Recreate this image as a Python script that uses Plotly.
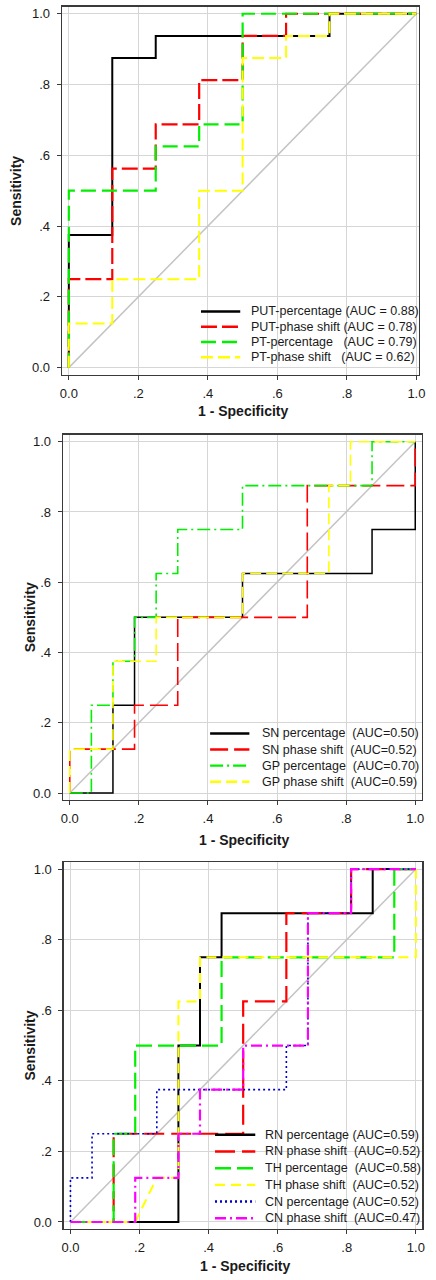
import plotly.graph_objects as go

W, H = 436, 1280

# ---------------- data (ROC points: 1-specificity, sensitivity) ----------------
# Panel 1
p1_names = ["PUT-percentage (AUC = 0.88)", "PUT-phase shift (AUC = 0.78)",
            "PT-percentage\u00a0\u00a0\u00a0(AUC = 0.79)", "PT-phase shift\u00a0\u00a0\u00a0(AUC = 0.62)"]
put_pct_fpr = [0, 0, 0.125, 0.125, 0.25, 0.25, 0.75, 0.75, 1]
put_pct_tpr = [0, 0.375, 0.375, 0.875, 0.875, 0.9375, 0.9375, 1, 1]
put_ph_fpr = [0, 0, 0.125, 0.125, 0.25, 0.25, 0.375, 0.375, 0.5, 0.5, 0.625, 0.625, 1]
put_ph_tpr = [0, 0.25, 0.25, 0.5625, 0.5625, 0.6875, 0.6875, 0.8125, 0.8125, 0.9375, 0.9375, 1, 1]
pt_pct_fpr = [0, 0, 0.25, 0.25, 0.375, 0.375, 0.5, 0.5, 1]
pt_pct_tpr = [0, 0.5, 0.5, 0.625, 0.625, 0.6875, 0.6875, 1, 1]
pt_ph_fpr = [0, 0, 0.125, 0.125, 0.375, 0.375, 0.5, 0.5, 0.625, 0.625, 0.75, 0.75, 1]
pt_ph_tpr = [0, 0.125, 0.125, 0.25, 0.25, 0.5, 0.5, 0.875, 0.875, 0.9375, 0.9375, 1, 1]

# Panel 2
p2_names = ["SN percentage\u00a0\u00a0(AUC=0.50)", "SN phase shift\u00a0\u00a0(AUC=0.52)",
            "GP percentage\u00a0\u00a0(AUC=0.70)", "GP phase shift\u00a0\u00a0(AUC=0.59)"]
sn_pct_fpr = [0, 0.125, 0.125, 0.1875, 0.1875, 0.5, 0.5, 0.875, 0.875, 1, 1]
sn_pct_tpr = [0, 0, 0.25, 0.25, 0.5, 0.5, 0.625, 0.625, 0.75, 0.75, 1]
sn_ph_fpr = [0, 0, 0.1875, 0.1875, 0.3125, 0.3125, 0.6875, 0.6875, 1, 1]
sn_ph_tpr = [0, 0.125, 0.125, 0.25, 0.25, 0.5, 0.5, 0.875, 0.875, 1]
gp_pct_fpr = [0, 0.0625, 0.0625, 0.125, 0.125, 0.1875, 0.1875, 0.25, 0.25, 0.3125, 0.3125, 0.5, 0.5, 0.875, 0.875, 1]
gp_pct_tpr = [0, 0, 0.25, 0.25, 0.375, 0.375, 0.5, 0.5, 0.625, 0.625, 0.75, 0.75, 0.875, 0.875, 1, 1]
gp_ph_fpr = [0, 0, 0.125, 0.125, 0.25, 0.25, 0.5, 0.5, 0.75, 0.75, 0.8125, 0.8125, 1]
gp_ph_tpr = [0, 0.125, 0.125, 0.375, 0.375, 0.5, 0.5, 0.625, 0.625, 0.875, 0.875, 1, 1]

# Panel 3
p3_names = ["RN percentage (AUC=0.59)", "RN phase shift\u00a0\u00a0(AUC=0.52)",
            "TH percentage\u00a0\u00a0(AUC=0.58)", "TH phase shift\u00a0\u00a0(AUC=0.52)",
            "CN percentage (AUC=0.52)", "CN phase shift\u00a0\u00a0(AUC=0.47)"]
rn_pct_fpr = [0, 0.3125, 0.3125, 0.375, 0.375, 0.4375, 0.4375, 0.875, 0.875, 1]
rn_pct_tpr = [0, 0, 0.5, 0.5, 0.75, 0.75, 0.875, 0.875, 1, 1]
rn_ph_fpr = [0, 0.125, 0.125, 0.5, 0.5, 0.625, 0.625, 0.8125, 0.8125, 1]
rn_ph_tpr = [0, 0, 0.25, 0.25, 0.625, 0.625, 0.875, 0.875, 1, 1]
th_pct_fpr = [0, 0.125, 0.125, 0.1875, 0.1875, 0.4375, 0.4375, 0.9375, 0.9375, 1]
th_pct_tpr = [0, 0, 0.25, 0.25, 0.5, 0.5, 0.75, 0.75, 1, 1]
th_ph_fpr = [0, 0.1875, 0.25, 0.3125, 0.3125, 0.375, 0.375, 1, 1]
th_ph_tpr = [0, 0, 0.125, 0.125, 0.625, 0.625, 0.75, 0.75, 1]
cn_pct_fpr = [0, 0, 0.0625, 0.0625, 0.25, 0.25, 0.625, 0.625, 0.6875, 0.6875, 0.8125, 0.8125, 1]
cn_pct_tpr = [0, 0.125, 0.125, 0.25, 0.25, 0.375, 0.375, 0.5, 0.5, 0.875, 0.875, 1, 1]
cn_ph_fpr = [0, 0.1875, 0.1875, 0.3125, 0.3125, 0.375, 0.375, 0.5, 0.5, 0.6875, 0.6875, 0.8125, 0.8125, 1]
cn_ph_tpr = [0, 0, 0.125, 0.125, 0.25, 0.25, 0.375, 0.375, 0.5, 0.5, 0.875, 0.875, 1, 1]

tick_vals = [0, 0.2, 0.4, 0.6, 0.8, 1.0]
tick_text = ["0.0", ".2", ".4", ".6", ".8", "1.0"]
x_title = "1 - Specificity"
y_title = "Sensitivity"

# ---------------- styles ----------------
BLACK, RED, GREEN, YELLOW, BLUE, MAGENTA = "#000000", "#ff0000", "#00f000", "#ffff00", "#0000cc", "#ff00ff"
FONT = "Arial, 'Liberation Sans', sans-serif"

panels = [
    dict(names=p1_names,
         series=[(put_pct_fpr, put_pct_tpr), (put_ph_fpr, put_ph_tpr), (pt_pct_fpr, pt_pct_tpr), (pt_ph_fpr, pt_ph_tpr)],
         styles=[(BLACK, "solid", 2), (RED, "16px,5px", 2.2), (GREEN, "15px,6px", 2.2), (YELLOW, "12px,5px", 2)],
         xdom=(61, 425), ydom=(6.7, 375), xr=(-0.02, 1.008),
         leg_y0=311.7, leg_dy=15.3, leg_x=(202.7, 242.7, 251.5),
         xt_y=411.7, yt_x=13.5),
    dict(names=p2_names,
         series=[(sn_pct_fpr, sn_pct_tpr), (sn_ph_fpr, sn_ph_tpr), (gp_pct_fpr, gp_pct_tpr), (gp_ph_fpr, gp_ph_tpr)],
         styles=[(BLACK, "solid", 1.5), (RED, "18px,6px", 1.6), (GREEN, "13px,4px,2px,4px", 1.6), (YELLOW, "11px,5px", 1.6)],
         xdom=(62, 428), ydom=(435, 800.7), xr=(-0.02, 1.02),
         leg_y0=734, leg_dy=16.1, leg_x=(212, 252, 262.5),
         xt_y=840.7, yt_x=28.5),
    dict(names=p3_names,
         series=[(rn_pct_fpr, rn_pct_tpr), (rn_ph_fpr, rn_ph_tpr), (th_pct_fpr, th_pct_tpr), (th_ph_fpr, th_ph_tpr),
                 (cn_pct_fpr, cn_pct_tpr), (cn_ph_fpr, cn_ph_tpr)],
         styles=[(BLACK, "solid", 2), (RED, "20px,7px", 2.2), (GREEN, "16px,6px", 2.2), (YELLOW, "10px,6px", 2),
                 (BLUE, "2px,3px", 1.6), (MAGENTA, "11px,4px,2px,4px", 2.2)],
         xdom=(62.7, 428.3), ydom=(862.7, 1230), xr=(-0.02, 1.019),
         leg_y0=1135.7, leg_dy=16.7, leg_x=(217, 258, 266),
         xt_y=1267, yt_x=28.5),
]


def fx(px):
    return px / W


def fy(py):
    return 1 - py / H


fig = go.Figure()
shapes, annotations = [], []
layout_axes = {}

for i, p in enumerate(panels):
    k = "" if i == 0 else str(i + 1)
    xa, ya = "x" + k, "y" + k
    # reference diagonal
    fig.add_trace(go.Scatter(x=[0, 1], y=[0, 1], mode="lines", xaxis=xa, yaxis=ya,
                             line=dict(color="#c4c4c4", width=1.5), showlegend=False, hoverinfo="skip"))
    for (fpr, tpr), name, (col, dash, wd) in zip(p["series"], p["names"], p["styles"]):
        fig.add_trace(go.Scatter(x=fpr, y=tpr, mode="lines", name=name, xaxis=xa, yaxis=ya,
                                 line=dict(color=col, dash=dash, width=wd), showlegend=False))
    axis_common = dict(tickvals=tick_vals, ticktext=tick_text, showgrid=True, gridcolor="#d6d6d6", gridwidth=1,
                       zeroline=False, showline=True, linecolor="#3a3a3a", linewidth=1.2, mirror=True,
                       ticks="outside", ticklen=4, tickcolor="#3a3a3a", tickwidth=1,
                       tickfont=dict(family=FONT, size=13, color="#1a1a1a"))
    layout_axes["xaxis" + k] = dict(axis_common, domain=[fx(p["xdom"][0]), fx(p["xdom"][1])],
                                    range=list(p["xr"]), anchor=ya, ticklabelstandoff=2)
    layout_axes["yaxis" + k] = dict(axis_common, domain=[fy(p["ydom"][1]), fy(p["ydom"][0])],
                                    range=[-0.02, 1.02], anchor=xa, ticklabelstandoff=4)
    # axis titles
    annotations.append(dict(text="<b>" + x_title + "</b>", xref="paper", yref="paper",
                            x=fx((p["xdom"][0] + p["xdom"][1]) / 2 + 2), y=fy(p["xt_y"]),
                            xanchor="center", yanchor="middle", showarrow=False,
                            font=dict(family=FONT, size=14, color="#1a1a1a")))
    annotations.append(dict(text="<b>" + y_title + "</b>", xref="paper", yref="paper",
                            x=fx(p["yt_x"]), y=fy((p["ydom"][0] + p["ydom"][1]) / 2),
                            xanchor="center", yanchor="middle", showarrow=False, textangle=-90,
                            font=dict(family=FONT, size=14, color="#1a1a1a")))
    # legend (drawn from the same names and styles)
    lx0, lx1, tx = p["leg_x"]
    for j, (name, (col, dash, wd)) in enumerate(zip(p["names"], p["styles"])):
        yy = p["leg_y0"] + j * p["leg_dy"]
        shapes.append(dict(type="line", xref="paper", yref="paper", x0=fx(lx0), x1=fx(lx1),
                           y0=fy(yy), y1=fy(yy), line=dict(color=col, dash=dash, width=max(wd, 2.4))))
        annotations.append(dict(text=name, xref="paper", yref="paper", x=fx(tx), y=fy(yy),
                                xanchor="left", yanchor="middle", showarrow=False,
                                font=dict(family=FONT, size=12.5, color="#1a1a1a")))

fig.update_layout(width=W, height=H, margin=dict(l=0, r=0, t=0, b=0),
                  paper_bgcolor="white", plot_bgcolor="white", showlegend=False,
                  shapes=shapes, annotations=annotations, **layout_axes)

fig.write_html("out.html", config={"displayModeBar": False, "staticPlot": True},
               post_script="document.body.style.margin='0';document.body.style.overflow='hidden';")
